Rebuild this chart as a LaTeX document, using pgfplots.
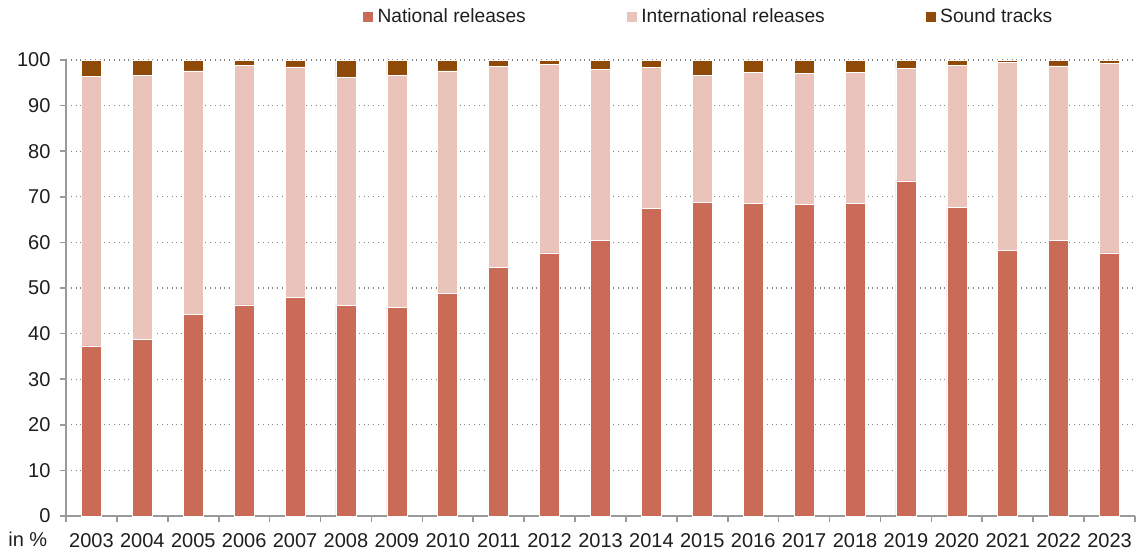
\documentclass[border=0pt]{standalone}
\usepackage{pgfplots}
\pgfplotsset{compat=1.18}
\usepackage{pgfplotstable}
\usepackage{fontspec}
\setmainfont{Liberation Sans}

\definecolor{natcol}{HTML}{C96B57}
\definecolor{intcol}{HTML}{EAC4BB}
\definecolor{sndcol}{HTML}{8E4A06}
\definecolor{axgray}{HTML}{9A9A9A}
\definecolor{txt}{HTML}{1E1E1E}

% share of releases, in %
\pgfplotstableread{
x year national international sound
0  2003 37.3 59.1 3.6
1  2004 38.8 57.8 3.4
2  2005 44.2 53.4 2.4
3  2006 46.3 52.5 1.2
4  2007 48.0 50.5 1.5
5  2008 46.1 50.0 3.9
6  2009 45.8 50.8 3.4
7  2010 48.9 48.7 2.4
8  2011 54.6 44.0 1.4
9  2012 57.7 41.4 0.9
10 2013 60.4 37.5 2.1
11 2014 67.4 31.0 1.6
12 2015 68.8 27.8 3.4
13 2016 68.6 28.7 2.7
14 2017 68.4 28.6 3.0
15 2018 68.6 28.6 2.8
16 2019 73.5 24.6 1.9
17 2020 67.7 31.1 1.2
18 2021 58.3 41.1 0.6
19 2022 60.5 38.2 1.3
20 2023 57.7 41.6 0.7
}\shares

\begin{document}
\begin{tikzpicture}
\fontsize{9.3}{11}\selectfont
\begin{axis}[
  scale only axis,
  width=534.5pt, height=228pt,
  ybar stacked, bar width=10pt,
  xmin=-0.5, xmax=20.5,
  ymin=0, ymax=100,
  xtick={0,...,20},
  xticklabels={2003,2004,2005,2006,2007,2008,2009,2010,2011,2012,2013,2014,2015,2016,2017,2018,2019,2020,2021,2022,2023},
  minor xtick={-0.5,0.5,...,20.5},
  ytick={0,10,...,100},
  axis lines*=left,
  axis line style={-, axgray, line width=0.8pt},
  tick align=outside,
  major x tick style={draw=none},
  minor x tick style={axgray, line width=0.8pt},
  y tick style={axgray, line width=0.8pt},
  major tick length=3pt, minor tick length=3pt,
  ymajorgrids,
  grid style={dotted, gray, line width=0.6pt},
  xticklabel style={font=\fontsize{10}{12}\selectfont, text=txt, yshift=-2.5pt},
  yticklabel style={font=\fontsize{10}{12}\selectfont, text=txt, xshift=-1.5pt},
  /pgf/number format/assume math mode=true,
  legend columns=3,
  legend style={at={(axis description cs:0.277,1.094)}, anchor=west,
    draw=none, fill=none, inner sep=0pt, outer sep=0pt,
    font=\fontsize{9.6}{11}\selectfont, text=txt,
    /tikz/every even column/.append style={column sep=48pt}},
  legend image code/.code={\fill[#1] (0pt,-2.7pt) rectangle (5.4pt,2.7pt);},
  legend cell align=left,
]
\addplot[fill=natcol, draw=white, line width=0.3pt] table[x=x, y=national]{\shares};
\addlegendentry{National releases}
\addplot[fill=intcol, draw=white, line width=0.3pt] table[x=x, y=international]{\shares};
\addlegendentry{International releases}
\addplot[fill=sndcol, draw=white, line width=0.3pt] table[x=x, y=sound]{\shares};
\addlegendentry{Sound tracks}
\end{axis}
\node[anchor=base west, text=txt, font=\fontsize{10}{12}\selectfont, inner sep=0pt]
  at (-29pt,-15.3pt) {in \%};
\pgfresetboundingbox
\path (-33pt,-19pt) rectangle (536pt,258pt);
\end{tikzpicture}
\end{document}
